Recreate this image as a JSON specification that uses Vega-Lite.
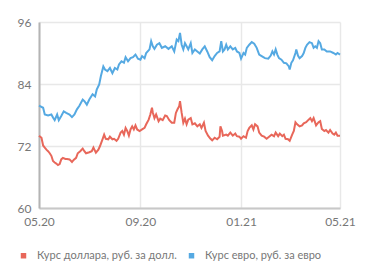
{
  "$schema": "https://vega.github.io/schema/vega-lite/v6.json",
  "width": 301,
  "height": 186,
  "autosize": {"type": "none"},
  "padding": {"left": 39, "top": 22, "right": 31, "bottom": 67},
  "background": "#ffffff",
  "config": {
    "view": {"stroke": null},
    "font": "Lato",
    "axis": {
      "labelFont": "Lato",
      "labelFontSize": 12,
      "labelColor": "#777777",
      "gridColor": "#e8e8e8",
      "gridWidth": 1.5,
      "ticks": false,
      "title": null
    },
    "legend": {
      "labelFont": "Lato",
      "labelFontSize": 11,
      "labelColor": "#777777"
    }
  },
  "datasets": {
    "usd": [
      {"date": "2020-05-01", "value": 74.0}, {"date": "2020-05-04", "value": 73.6}, {"date": "2020-05-06", "value": 72.1}, {"date": "2020-05-08", "value": 71.7},
      {"date": "2020-05-10", "value": 71.3}, {"date": "2020-05-12", "value": 71.0}, {"date": "2020-05-14", "value": 70.6}, {"date": "2020-05-16", "value": 70.1},
      {"date": "2020-05-18", "value": 69.1}, {"date": "2020-05-20", "value": 68.8}, {"date": "2020-05-22", "value": 68.6}, {"date": "2020-05-24", "value": 68.3},
      {"date": "2020-05-26", "value": 68.5}, {"date": "2020-05-28", "value": 69.4}, {"date": "2020-05-30", "value": 69.7}, {"date": "2020-06-02", "value": 69.5},
      {"date": "2020-06-04", "value": 69.5}, {"date": "2020-06-07", "value": 69.4}, {"date": "2020-06-10", "value": 68.9}, {"date": "2020-06-12", "value": 69.3},
      {"date": "2020-06-15", "value": 69.7}, {"date": "2020-06-17", "value": 70.6}, {"date": "2020-06-20", "value": 71.0}, {"date": "2020-06-23", "value": 71.5},
      {"date": "2020-06-25", "value": 71.0}, {"date": "2020-06-27", "value": 70.6}, {"date": "2020-07-01", "value": 70.8}, {"date": "2020-07-04", "value": 71.0},
      {"date": "2020-07-06", "value": 71.7}, {"date": "2020-07-09", "value": 70.7}, {"date": "2020-07-12", "value": 71.3}, {"date": "2020-07-14", "value": 72.0},
      {"date": "2020-07-17", "value": 73.3}, {"date": "2020-07-19", "value": 74.2}, {"date": "2020-07-21", "value": 73.4}, {"date": "2020-07-24", "value": 73.3},
      {"date": "2020-07-26", "value": 73.8}, {"date": "2020-07-29", "value": 73.3}, {"date": "2020-07-31", "value": 73.4}, {"date": "2020-08-03", "value": 73.0},
      {"date": "2020-08-05", "value": 73.4}, {"date": "2020-08-08", "value": 74.6}, {"date": "2020-08-10", "value": 74.9}, {"date": "2020-08-12", "value": 74.2},
      {"date": "2020-08-14", "value": 75.5}, {"date": "2020-08-16", "value": 74.9}, {"date": "2020-08-18", "value": 74.0}, {"date": "2020-08-20", "value": 75.2},
      {"date": "2020-08-22", "value": 75.8}, {"date": "2020-08-24", "value": 75.2}, {"date": "2020-08-26", "value": 76.0}, {"date": "2020-08-28", "value": 75.2},
      {"date": "2020-08-31", "value": 74.9}, {"date": "2020-09-03", "value": 75.2}, {"date": "2020-09-06", "value": 75.5}, {"date": "2020-09-08", "value": 76.2},
      {"date": "2020-09-11", "value": 77.1}, {"date": "2020-09-13", "value": 78.1}, {"date": "2020-09-15", "value": 79.4}, {"date": "2020-09-16", "value": 78.5},
      {"date": "2020-09-18", "value": 77.4}, {"date": "2020-09-20", "value": 78.1}, {"date": "2020-09-23", "value": 76.8}, {"date": "2020-09-25", "value": 77.3},
      {"date": "2020-09-28", "value": 77.0}, {"date": "2020-10-01", "value": 77.9}, {"date": "2020-10-03", "value": 77.8}, {"date": "2020-10-06", "value": 77.0},
      {"date": "2020-10-09", "value": 76.5}, {"date": "2020-10-12", "value": 76.5}, {"date": "2020-10-14", "value": 78.4}, {"date": "2020-10-16", "value": 79.1},
      {"date": "2020-10-18", "value": 79.7}, {"date": "2020-10-19", "value": 80.7}, {"date": "2020-10-21", "value": 78.4}, {"date": "2020-10-23", "value": 76.5},
      {"date": "2020-10-25", "value": 77.3}, {"date": "2020-10-27", "value": 76.2}, {"date": "2020-10-29", "value": 77.1}, {"date": "2020-11-01", "value": 77.4},
      {"date": "2020-11-03", "value": 76.2}, {"date": "2020-11-06", "value": 76.4}, {"date": "2020-11-09", "value": 75.8}, {"date": "2020-11-12", "value": 76.2},
      {"date": "2020-11-14", "value": 75.5}, {"date": "2020-11-17", "value": 76.5}, {"date": "2020-11-19", "value": 74.9}, {"date": "2020-11-22", "value": 74.0},
      {"date": "2020-11-25", "value": 73.4}, {"date": "2020-11-27", "value": 73.1}, {"date": "2020-11-30", "value": 73.6}, {"date": "2020-12-03", "value": 73.3},
      {"date": "2020-12-06", "value": 73.8}, {"date": "2020-12-07", "value": 75.8}, {"date": "2020-12-09", "value": 74.9}, {"date": "2020-12-10", "value": 74.0},
      {"date": "2020-12-14", "value": 74.2}, {"date": "2020-12-16", "value": 74.0}, {"date": "2020-12-19", "value": 74.6}, {"date": "2020-12-22", "value": 74.0},
      {"date": "2020-12-25", "value": 74.4}, {"date": "2020-12-27", "value": 73.9}, {"date": "2020-12-30", "value": 73.8}, {"date": "2021-01-01", "value": 73.4},
      {"date": "2021-01-04", "value": 73.9}, {"date": "2021-01-07", "value": 73.6}, {"date": "2021-01-09", "value": 74.9}, {"date": "2021-01-11", "value": 75.5},
      {"date": "2021-01-14", "value": 76.0}, {"date": "2021-01-16", "value": 75.2}, {"date": "2021-01-18", "value": 76.2}, {"date": "2021-01-21", "value": 75.8},
      {"date": "2021-01-23", "value": 74.6}, {"date": "2021-01-26", "value": 74.0}, {"date": "2021-01-29", "value": 73.8}, {"date": "2021-02-01", "value": 73.4},
      {"date": "2021-02-04", "value": 73.8}, {"date": "2021-02-07", "value": 74.2}, {"date": "2021-02-10", "value": 73.9}, {"date": "2021-02-12", "value": 74.6},
      {"date": "2021-02-15", "value": 73.9}, {"date": "2021-02-17", "value": 74.4}, {"date": "2021-02-20", "value": 73.9}, {"date": "2021-02-22", "value": 74.2},
      {"date": "2021-02-24", "value": 73.4}, {"date": "2021-02-27", "value": 73.3}, {"date": "2021-03-01", "value": 73.0}, {"date": "2021-03-04", "value": 74.2},
      {"date": "2021-03-06", "value": 74.9}, {"date": "2021-03-08", "value": 76.6}, {"date": "2021-03-10", "value": 76.2}, {"date": "2021-03-13", "value": 75.8},
      {"date": "2021-03-16", "value": 76.0}, {"date": "2021-03-18", "value": 76.4}, {"date": "2021-03-21", "value": 76.6}, {"date": "2021-03-24", "value": 77.1},
      {"date": "2021-03-26", "value": 77.4}, {"date": "2021-03-28", "value": 76.8}, {"date": "2021-03-30", "value": 77.4}, {"date": "2021-04-02", "value": 76.0},
      {"date": "2021-04-05", "value": 76.6}, {"date": "2021-04-07", "value": 76.8}, {"date": "2021-04-09", "value": 75.3}, {"date": "2021-04-12", "value": 74.9},
      {"date": "2021-04-14", "value": 75.1}, {"date": "2021-04-17", "value": 74.6}, {"date": "2021-04-19", "value": 75.1}, {"date": "2021-04-22", "value": 74.4},
      {"date": "2021-04-24", "value": 74.2}, {"date": "2021-04-26", "value": 74.6}, {"date": "2021-04-28", "value": 74.0}, {"date": "2021-05-01", "value": 74.0}
    ],
    "eur": [
      {"date": "2020-05-01", "value": 79.8}, {"date": "2020-05-06", "value": 79.4}, {"date": "2020-05-08", "value": 78.1}, {"date": "2020-05-12", "value": 77.9},
      {"date": "2020-05-16", "value": 78.1}, {"date": "2020-05-18", "value": 77.5}, {"date": "2020-05-20", "value": 77.0}, {"date": "2020-05-23", "value": 78.1},
      {"date": "2020-05-25", "value": 77.0}, {"date": "2020-05-28", "value": 77.8}, {"date": "2020-05-31", "value": 78.7}, {"date": "2020-06-03", "value": 78.4},
      {"date": "2020-06-07", "value": 78.1}, {"date": "2020-06-10", "value": 77.6}, {"date": "2020-06-13", "value": 78.1}, {"date": "2020-06-16", "value": 79.1},
      {"date": "2020-06-19", "value": 79.8}, {"date": "2020-06-23", "value": 81.0}, {"date": "2020-06-25", "value": 80.7}, {"date": "2020-06-28", "value": 80.0},
      {"date": "2020-07-01", "value": 81.0}, {"date": "2020-07-05", "value": 82.0}, {"date": "2020-07-08", "value": 81.6}, {"date": "2020-07-10", "value": 82.9},
      {"date": "2020-07-13", "value": 83.9}, {"date": "2020-07-15", "value": 85.5}, {"date": "2020-07-18", "value": 87.4}, {"date": "2020-07-20", "value": 86.8},
      {"date": "2020-07-23", "value": 86.5}, {"date": "2020-07-26", "value": 87.1}, {"date": "2020-07-29", "value": 86.1}, {"date": "2020-08-01", "value": 87.1},
      {"date": "2020-08-04", "value": 86.8}, {"date": "2020-08-06", "value": 87.8}, {"date": "2020-08-09", "value": 88.4}, {"date": "2020-08-12", "value": 88.1},
      {"date": "2020-08-14", "value": 89.2}, {"date": "2020-08-17", "value": 88.4}, {"date": "2020-08-20", "value": 89.0}, {"date": "2020-08-23", "value": 89.2},
      {"date": "2020-08-26", "value": 89.7}, {"date": "2020-08-29", "value": 88.9}, {"date": "2020-09-01", "value": 88.7}, {"date": "2020-09-03", "value": 89.4},
      {"date": "2020-09-06", "value": 89.0}, {"date": "2020-09-08", "value": 90.0}, {"date": "2020-09-12", "value": 90.7}, {"date": "2020-09-14", "value": 92.3},
      {"date": "2020-09-16", "value": 91.3}, {"date": "2020-09-18", "value": 90.8}, {"date": "2020-09-21", "value": 91.6}, {"date": "2020-09-24", "value": 91.9},
      {"date": "2020-09-27", "value": 91.0}, {"date": "2020-10-01", "value": 91.3}, {"date": "2020-10-05", "value": 90.8}, {"date": "2020-10-09", "value": 91.3},
      {"date": "2020-10-12", "value": 90.3}, {"date": "2020-10-15", "value": 92.6}, {"date": "2020-10-17", "value": 92.3}, {"date": "2020-10-19", "value": 93.9},
      {"date": "2020-10-21", "value": 91.6}, {"date": "2020-10-23", "value": 90.7}, {"date": "2020-10-25", "value": 91.9}, {"date": "2020-10-27", "value": 91.3},
      {"date": "2020-10-29", "value": 90.7}, {"date": "2020-11-01", "value": 91.9}, {"date": "2020-11-03", "value": 90.0}, {"date": "2020-11-06", "value": 90.7},
      {"date": "2020-11-09", "value": 90.3}, {"date": "2020-11-12", "value": 89.9}, {"date": "2020-11-15", "value": 90.7}, {"date": "2020-11-18", "value": 91.3},
      {"date": "2020-11-21", "value": 90.3}, {"date": "2020-11-24", "value": 89.2}, {"date": "2020-11-27", "value": 88.6}, {"date": "2020-11-30", "value": 89.4},
      {"date": "2020-12-03", "value": 90.0}, {"date": "2020-12-06", "value": 90.3}, {"date": "2020-12-08", "value": 92.3}, {"date": "2020-12-10", "value": 90.3},
      {"date": "2020-12-12", "value": 90.7}, {"date": "2020-12-14", "value": 91.6}, {"date": "2020-12-16", "value": 90.7}, {"date": "2020-12-19", "value": 91.3},
      {"date": "2020-12-22", "value": 90.7}, {"date": "2020-12-25", "value": 91.0}, {"date": "2020-12-27", "value": 90.3}, {"date": "2020-12-30", "value": 90.0},
      {"date": "2021-01-01", "value": 88.9}, {"date": "2021-01-04", "value": 90.0}, {"date": "2021-01-06", "value": 89.7}, {"date": "2021-01-08", "value": 91.0},
      {"date": "2021-01-11", "value": 91.6}, {"date": "2021-01-14", "value": 92.1}, {"date": "2021-01-17", "value": 91.8}, {"date": "2021-01-20", "value": 91.0},
      {"date": "2021-01-23", "value": 89.7}, {"date": "2021-01-26", "value": 89.4}, {"date": "2021-01-30", "value": 89.0}, {"date": "2021-02-03", "value": 88.9},
      {"date": "2021-02-06", "value": 89.5}, {"date": "2021-02-08", "value": 90.3}, {"date": "2021-02-10", "value": 89.7}, {"date": "2021-02-12", "value": 90.7},
      {"date": "2021-02-14", "value": 89.7}, {"date": "2021-02-16", "value": 89.0}, {"date": "2021-02-19", "value": 88.7}, {"date": "2021-02-22", "value": 88.1},
      {"date": "2021-02-25", "value": 88.0}, {"date": "2021-02-28", "value": 87.4}, {"date": "2021-03-01", "value": 86.8}, {"date": "2021-03-03", "value": 88.1},
      {"date": "2021-03-05", "value": 88.6}, {"date": "2021-03-08", "value": 90.0}, {"date": "2021-03-09", "value": 90.7}, {"date": "2021-03-11", "value": 89.5},
      {"date": "2021-03-13", "value": 89.0}, {"date": "2021-03-16", "value": 89.4}, {"date": "2021-03-18", "value": 90.0}, {"date": "2021-03-20", "value": 91.0},
      {"date": "2021-03-22", "value": 91.6}, {"date": "2021-03-25", "value": 92.1}, {"date": "2021-03-28", "value": 91.9}, {"date": "2021-03-30", "value": 91.0},
      {"date": "2021-04-01", "value": 91.3}, {"date": "2021-04-03", "value": 91.0}, {"date": "2021-04-05", "value": 92.3}, {"date": "2021-04-07", "value": 91.9},
      {"date": "2021-04-09", "value": 90.7}, {"date": "2021-04-12", "value": 90.7}, {"date": "2021-04-15", "value": 90.3}, {"date": "2021-04-19", "value": 90.3},
      {"date": "2021-04-23", "value": 90.0}, {"date": "2021-04-26", "value": 89.7}, {"date": "2021-04-28", "value": 90.0}, {"date": "2021-05-01", "value": 89.7}
    ]
  },
  "encoding": {
    "x": {
      "field": "date",
      "type": "temporal",
      "scale": {
        "type": "utc",
        "domain": [
          {"year": 2020, "month": 5, "date": 1, "utc": true},
          {"year": 2021, "month": 5, "date": 1, "utc": true}
        ]
      },
      "axis": {
        "values": [
          {"year": 2020, "month": 5, "date": 1, "utc": true},
          {"year": 2020, "month": 9, "date": 1, "utc": true},
          {"year": 2021, "month": 1, "date": 1, "utc": true},
          {"year": 2021, "month": 5, "date": 1, "utc": true}
        ],
        "labelExpr": "utcFormat(datum.value, '%m.%y')",
        "labelPadding": 8,
        "domainColor": "#c8c8c8",
        "domainWidth": 2,
        "labelFlush": false,
        "labelOverlap": false
      }
    },
    "y": {
      "field": "value",
      "type": "quantitative",
      "scale": {"domain": [60, 96], "nice": false, "zero": false},
      "axis": {
        "values": [60, 72, 84, 96],
        "labelPadding": 8,
        "domainColor": "#b4b4b4",
        "domainWidth": 2
      }
    }
  },
  "layer": [
    {
      "data": {"name": "usd"},
      "mark": {"type": "line", "strokeWidth": 2, "interpolate": "linear"},
      "encoding": {
        "color": {
          "datum": "Курс доллара, руб. за долл.",
          "type": "nominal",
          "scale": {
            "domain": ["Курс доллара, руб. за долл.", "Курс евро, руб. за евро"],
            "range": ["#e8675a", "#55a9e2"]
          },
          "legend": {
            "title": null,
            "orient": "none",
            "direction": "horizontal",
            "legendX": -21,
            "legendY": 228,
            "symbolType": "square",
            "symbolSize": 30,
            "symbolStrokeWidth": 0,
            "labelOffset": 8,
            "columnPadding": 9,
            "encode": {
              "symbols": {
                "update": {
                  "fill": {"scale": "color", "field": "value"},
                  "strokeWidth": {"value": 0}
                }
              }
            }
          }
        }
      }
    },
    {
      "data": {"name": "eur"},
      "mark": {"type": "line", "strokeWidth": 2, "interpolate": "linear"},
      "encoding": {
        "color": {"datum": "Курс евро, руб. за евро", "type": "nominal"}
      }
    }
  ]
}
